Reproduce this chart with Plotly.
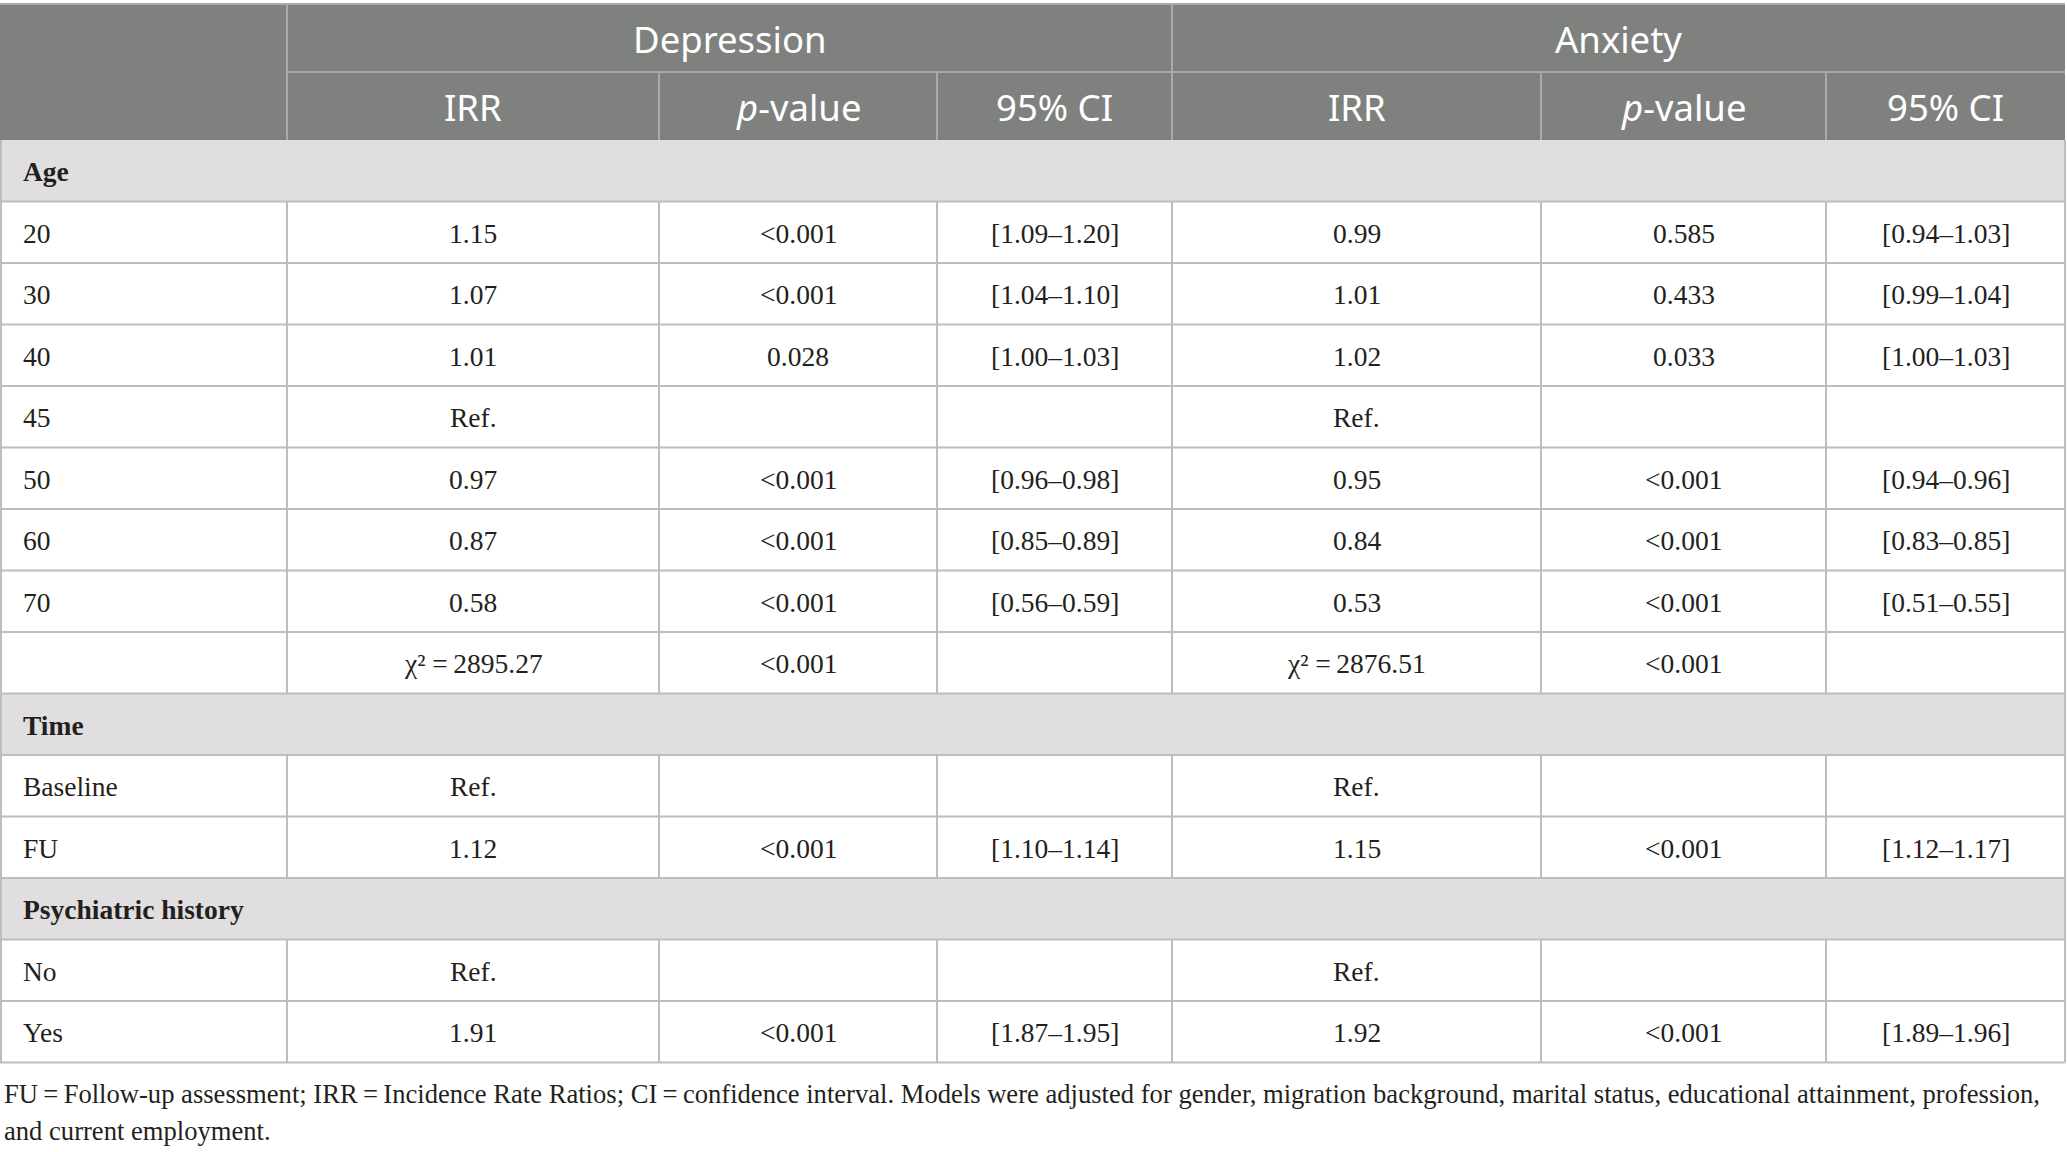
import plotly.graph_objects as go

# ---------------- data ----------------
groups = ["Depression", "Anxiety"]
subheads = ["IRR", "<i>p</i>-value", "95% CI"]

sections = ["Age", "Time", "Psychiatric history"]
section_rows = {
    "Age": ["20", "30", "40", "45", "50", "60", "70", ""],
    "Time": ["Baseline", "FU"],
    "Psychiatric history": ["No", "Yes"],
}

dep_irr = ["1.15", "1.07", "1.01", "Ref.", "0.97", "0.87", "0.58", "χ² =\u20092895.27",
           "Ref.", "1.12", "Ref.", "1.91"]
dep_p = ["<0.001", "<0.001", "0.028", "", "<0.001", "<0.001", "<0.001", "<0.001",
         "", "<0.001", "", "<0.001"]
dep_ci = ["[1.09–1.20]", "[1.04–1.10]", "[1.00–1.03]", "", "[0.96–0.98]", "[0.85–0.89]", "[0.56–0.59]", "",
          "", "[1.10–1.14]", "", "[1.87–1.95]"]
anx_irr = ["0.99", "1.01", "1.02", "Ref.", "0.95", "0.84", "0.53", "χ² =\u20092876.51",
           "Ref.", "1.15", "Ref.", "1.92"]
anx_p = ["0.585", "0.433", "0.033", "", "<0.001", "<0.001", "<0.001", "<0.001",
         "", "<0.001", "", "<0.001"]
anx_ci = ["[0.94–1.03]", "[0.99–1.04]", "[1.00–1.03]", "", "[0.94–0.96]", "[0.83–0.85]", "[0.51–0.55]", "",
          "", "[1.12–1.17]", "", "[1.89–1.96]"]

footnote = [
    "FU\u2009=\u2009Follow-up assessment; IRR\u2009=\u2009Incidence Rate Ratios; CI\u2009=\u2009confidence interval. "
    "Models were adjusted for gender, migration background, marital status, educational attainment, profession,",
    "and current employment.",
]

# ---------------- layout constants ----------------
W, H = 2067, 1152
col_edges = [0, 287, 659, 937, 1172, 1541, 1826, 2065]
head_top, head_mid, head_bot = 4, 72, 140
row_h = 61.5
label_pad = 21

HEAD_FILL = "#7f817f"
HEAD_LINE = "#a9aaa9"
SEC_FILL = "#e0dedf"
GRID = "#bdbdbd"
TXT = "#231f20"
SERIF = "Liberation Serif, Times New Roman, serif"
SANS = "Noto Sans, Open Sans, sans-serif"
BODY_SIZE = 27.5
HEAD_SIZE = 36.5
FOOT_SIZE = 26.6

fig = go.Figure()
shapes = []
ann = []


def line(x0, y0, x1, y1, color, w=2):
    shapes.append(dict(type="line", xref="x", yref="y", x0=x0, y0=y0, x1=x1, y1=y1,
                       line=dict(color=color, width=w), layer="above"))


def rect(x0, y0, x1, y1, fill):
    shapes.append(dict(type="rect", xref="x", yref="y", x0=x0, y0=y0, x1=x1, y1=y1,
                       fillcolor=fill, line=dict(width=0), layer="below"))


def text(x, y, s, size, color, family, anchor="center"):
    if not s:
        return
    ann.append(dict(x=x, y=y, xref="x", yref="y", text=s, showarrow=False,
                    xanchor=anchor, yanchor="middle",
                    font=dict(size=size, color=color, family=family)))


left, right = col_edges[0], col_edges[-1]

# header
rect(left, head_top, right, head_bot, HEAD_FILL)
line(left, head_top, right, head_top, HEAD_LINE)
line(col_edges[1], head_mid, right, head_mid, HEAD_LINE)
for i, xe in enumerate(col_edges[1:-1], start=1):
    if i in (1, 4):
        line(xe, head_top, xe, head_bot, HEAD_LINE)
    else:
        line(xe, head_mid, xe, head_bot, HEAD_LINE)
for g, name in enumerate(groups):
    a, b = col_edges[1 + 3 * g], col_edges[4 + 3 * g]
    text((a + b) / 2, (head_top + head_mid) / 2 + 1, name, HEAD_SIZE, "white", SANS)
    for k, sh in enumerate(subheads):
        c0, c1 = col_edges[1 + 3 * g + k], col_edges[2 + 3 * g + k]
        text((c0 + c1) / 2, (head_mid + head_bot) / 2 + 1, sh, HEAD_SIZE, "white", SANS)

# body
value_cols = [dep_irr, dep_p, dep_ci, anx_irr, anx_p, anx_ci]
y = head_bot
di = 0
for sec in sections:
    y0, y1 = y, y + row_h
    rect(left, y0, right, y1, SEC_FILL)
    text(label_pad, (y0 + y1) / 2 + 1, "<b>" + sec + "</b>", BODY_SIZE, TXT, SERIF, "left")
    line(left, y1, right, y1, GRID)
    y = y1
    for lab in section_rows[sec]:
        y0, y1 = y, y + row_h
        text(label_pad, (y0 + y1) / 2 + 1, lab, BODY_SIZE, TXT, SERIF, "left")
        for c, vals in enumerate(value_cols):
            c0, c1 = col_edges[1 + c], col_edges[2 + c]
            text((c0 + c1) / 2, (y0 + y1) / 2 + 1, vals[di], BODY_SIZE, TXT, SERIF)
        for xe in col_edges[1:-1]:
            line(xe, y0, xe, y1, GRID)
        line(left, y1, right, y1, GRID)
        y = y1
        di += 1
table_bottom = y
line(left + 1, head_bot, left + 1, table_bottom, GRID)
line(right, head_bot, right, table_bottom, GRID)

# footnote
text(2, table_bottom + 31, footnote[0], FOOT_SIZE, TXT, SERIF, "left")
text(2, table_bottom + 68, footnote[1], FOOT_SIZE, TXT, SERIF, "left")

fig.update_layout(
    width=W, height=H, margin=dict(l=0, r=0, t=0, b=0),
    paper_bgcolor="white", plot_bgcolor="white",
    xaxis=dict(range=[0, W], visible=False, fixedrange=True),
    yaxis=dict(range=[H, 0], visible=False, fixedrange=True),
    shapes=shapes, annotations=ann, showlegend=False,
)

fig.write_html("out.html",
               config={"displayModeBar": False},
               post_script="document.body.style.margin='0';document.body.style.overflow='hidden';")
